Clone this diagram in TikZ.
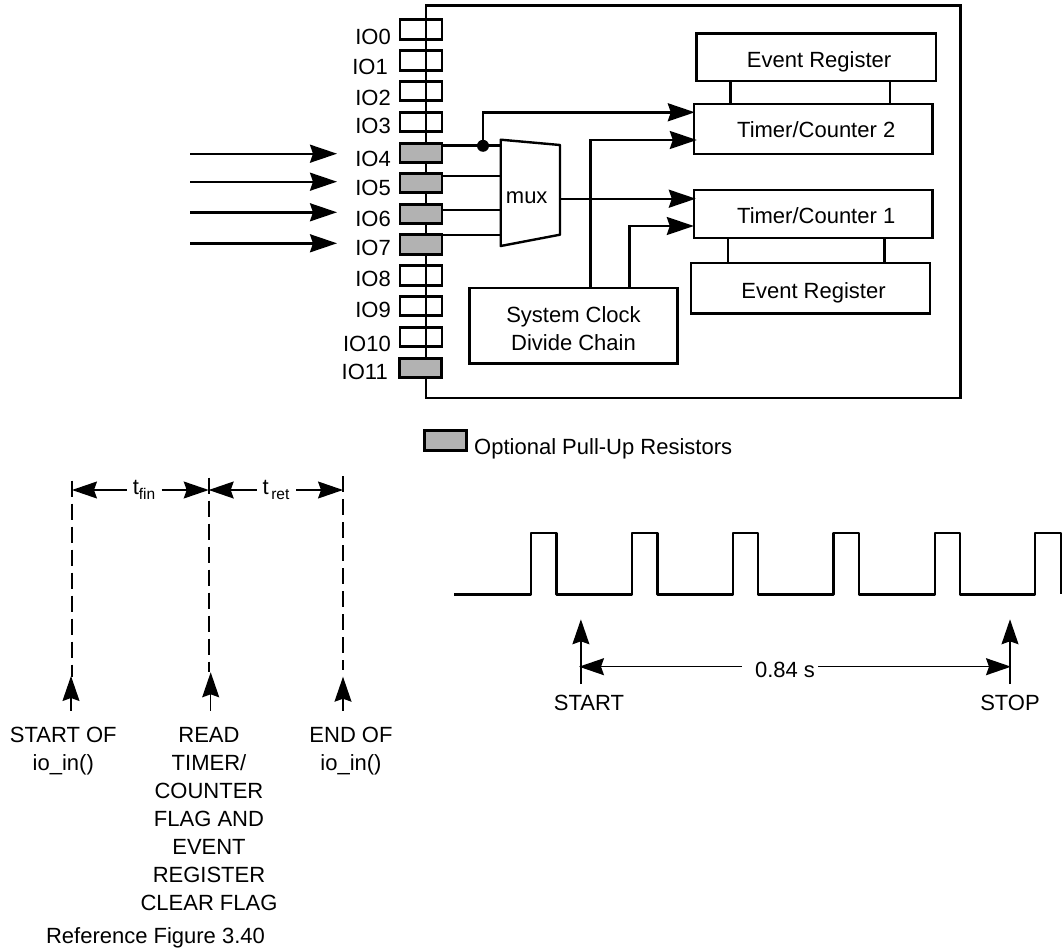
\documentclass[tikz,border=0pt]{standalone}
\usepackage{fontspec}
\setmainfont{Liberation Sans}
\usetikzlibrary{arrows.meta}
\definecolor{padgray}{HTML}{B2B2B2}
\newcommand{\lowtxt}[1]{\raisebox{-4.5pt}{\fontsize{15.5}{15}\selectfont #1}}
\tikzset{
	wire/.style={line width=2.4pt},
	thinwire/.style={line width=1.3pt},
	sig/.style={wire,-{Stealth[length=27pt,width=18pt,inset=3pt]}},
	dim/.style={thinwire,-{Stealth[length=25pt,width=17pt,inset=3pt]}},
	stem/.style={wire,dash pattern=on 16pt off 7pt},
	box/.style={draw,line width=2.4pt,inner sep=0pt,outer sep=0pt,align=center},
	pad/.style={box,line width=2.6pt,minimum width=42pt,minimum height=19.5pt},
	onpad/.style={pad,fill=padgray},
	iolabel/.style={anchor=east,inner sep=0pt},
	txt/.style={inner sep=0pt,align=center}
}
\begin{document}
\begin{tikzpicture}[x=1pt,y=-1pt,font=\fontsize{22}{28}\selectfont]
		\useasboundingbox (0,0) rectangle (1062,950);

		\node[box,minimum width=534.8pt,minimum height=392.5pt] (chip) at (693.1,201.75) {};

		\node[pad] (io0) at (421,29.5) {};
		\node[pad] (io1) at (421,60.5) {};
		\node[pad] (io2) at (421,91) {};
		\node[pad] (io3) at (421,122) {};
		\node[onpad] (io4) at (421,153) {};
		\node[onpad] (io5) at (421,183) {};
		\node[onpad] (io6) at (421,214) {};
		\node[onpad] (io7) at (421,244.5) {};
		\node[pad] (io8) at (421,275.5) {};
		\node[pad] (io9) at (421,306) {};
		\node[pad] (io10) at (421,337) {};
		\node[onpad] (io11) at (420.3,368) {};

		\node[iolabel] (lab0) at (391,37) {IO0};
		\node[iolabel] (lab1) at (388,67) {IO1};
		\node[iolabel] (lab2) at (391,98) {IO2};
		\node[iolabel] (lab3) at (391,126) {IO3};
		\node[iolabel] (lab4) at (391,159) {IO4};
		\node[iolabel] (lab5) at (391,188) {IO5};
		\node[iolabel] (lab6) at (391,219) {IO6};
		\node[iolabel] (lab7) at (391,248) {IO7};
		\node[iolabel] (lab8) at (391,279) {IO8};
		\node[iolabel] (lab9) at (391,310) {IO9};
		\node[iolabel] (lab10) at (391,344) {IO10};
		\node[iolabel] (lab11) at (388,372) {IO11};

		\draw[sig] (190,153.7) coordinate (ina) -- (337,153.7) coordinate (inatip);
		\draw[sig] (190,181.7) coordinate (inb) -- (337,181.7) coordinate (inbtip);
		\draw[sig] (190,212.3) coordinate (inc) -- (337,212.3) coordinate (inctip);
		\draw[sig] (190,243.3) coordinate (ind) -- (337,243.3) coordinate (indtip);

		\coordinate (muxa) at (500.7,139.7);
		\coordinate (muxb) at (560,145);
		\coordinate (muxc) at (560,234.7);
		\coordinate (muxd) at (500.7,246);
		\coordinate (muxout) at (560,198.7);
		\draw[wire,line join=round] (muxa) -- (muxb) -- (muxc) -- (muxd) -- cycle;
		\node[txt] (muxtxt) at (526.7,198) {mux};

		\draw[wire] (io4.east |- 0,145.3) -- (muxa |- 0,145.3);
		\draw[wire] (io5.east |- 0,175.7) -- (muxa |- 0,175.7);
		\draw[wire] (io6.east |- 0,210) -- (muxa |- 0,210);
		\draw[wire] (io7.east |- 0,235) -- (muxa |- 0,235);
		\node[circle,fill=black,minimum size=12pt,inner sep=0pt] (tap) at (483,145.8) {};

		\node[box,minimum width=239.2pt,minimum height=47.5pt,text height=19.5pt,text depth=0pt] (evtop) at (816.1,57.25) {\hspace*{6pt}Event Register};
		\node[box,minimum width=238.8pt,minimum height=50pt,text height=17.2pt,text depth=0pt] (timertwo) at (813.2,128.7) {\hspace*{6pt}Timer/Counter 2};
		\node[box,minimum width=238.8pt,minimum height=47.7pt,text height=18.3pt,text depth=0pt] (timerone) at (813.2,213.85) {\hspace*{6pt}Timer/Counter 1};
		\node[box,minimum width=239pt,minimum height=50.6pt,text height=20pt,text depth=0pt] (evbot) at (810.5,288) {\hspace*{6pt}Event Register};
		\node[box,minimum width=207.8pt,minimum height=75.3pt] (sysclk) at (573.5,325.65) {\rule{0pt}{21pt}System Clock\\Divide Chain};

		\draw[wire] (evtop.south -| 730.6,0) -- (timertwo.north -| 730.6,0);
		\draw[wire] (evtop.south -| 890,0) -- (timertwo.north -| 890,0);
		\draw[wire] (timerone.south -| 728,0) -- (evbot.north -| 728,0);
		\draw[wire] (timerone.south -| 884.4,0) -- (evbot.north -| 884.4,0);

		\draw[sig] (tap.center) |- ([xshift=1pt]timertwo.west |- 0,112.3);
		\draw[sig] (sysclk.north -| 590.5,0) |- ([xshift=3pt]timertwo.west |- 0,140);
		\draw[sig] (muxout) -- ([xshift=2pt]timerone.west |- muxout);
		\draw[sig] (sysclk.north -| 629.5,0) |- (timerone.west |- 0,226);

		\node[onpad,minimum height=20pt] (legendpad) at (445.3,440.5) {};
		\node[txt,anchor=west] (legendtxt) at (474,449) {Optional Pull-Up Resistors};

		\node[txt] (tfin) at (144,490) {t\lowtxt{fin}};
		\node[txt] (tret) at (276,490) {t\lowtxt{\,ret}};
		\coordinate (starttop) at (72,490);
		\coordinate (readtop) at (208.7,490);
		\coordinate (endtop) at (343,490);
		\draw[dim] (126.7,490) -- (starttop);
		\draw[dim] (161.7,490) -- (readtop);
		\draw[dim] (256.7,490) -- (readtop);
		\draw[dim] (296,490) -- (endtop);

		\draw[stem] (72,480.7) -- (72,676.7);
		\draw[stem] (208.7,477.7) -- (208.7,671.7);
		\draw[stem] (343,476) -- (343,670);

		\draw[dim] (71,710.7) -- (71,676);
		\draw[dim] (210.7,710.7) -- (210.7,672.3);
		\draw[dim] (343,710.7) -- (343,676.7);

		\node[txt] (startlab) at (63.3,751) {START OF\\io\_in()};
		\node[txt] (readlab) at (209,819) {READ\\TIMER/\\COUNTER\\FLAG AND\\EVENT\\REGISTER\\CLEAR FLAG};
		\node[txt] (endlab) at (351,751) {END OF\\io\_in()};
		\node[txt] (figlab) at (155.5,938) {Reference Figure 3.40};

		\draw[wire,line join=round] (454.3,594.3) -- (530.9,594.3) -- (530.9,533) -- (556.3,533) -- (556.3,594.3)
			-- (632,594.3) -- (632,533) -- (657.5,533) -- (657.5,594.3)
			-- (733,594.3) -- (733,533) -- (758,533) -- (758,594.3)
			-- (833.6,594.3) -- (833.6,533) -- (859,533) -- (859,594.3)
			-- (934.8,594.3) -- (934.8,533) -- (959.8,533) -- (959.8,594.3)
			-- (1035,594.3) -- (1035,533) -- (1061,533) -- (1061,594.3);

		\draw[dim] (580.9,684) -- (580.9,619.3);
		\draw[dim] (1010,684) -- (1010,619.3);
		\node[txt] (period) at (785,670) {0.84 s};
		\draw[dim] (741.6,666.7) -- (579,666.7);
		\draw[dim] (818,666.7) -- (1011,666.7);
		\node[txt] (startsig) at (589,703) {START};
		\node[txt] (stopsig) at (1010,703) {STOP};
	\end{tikzpicture}
\end{document}
